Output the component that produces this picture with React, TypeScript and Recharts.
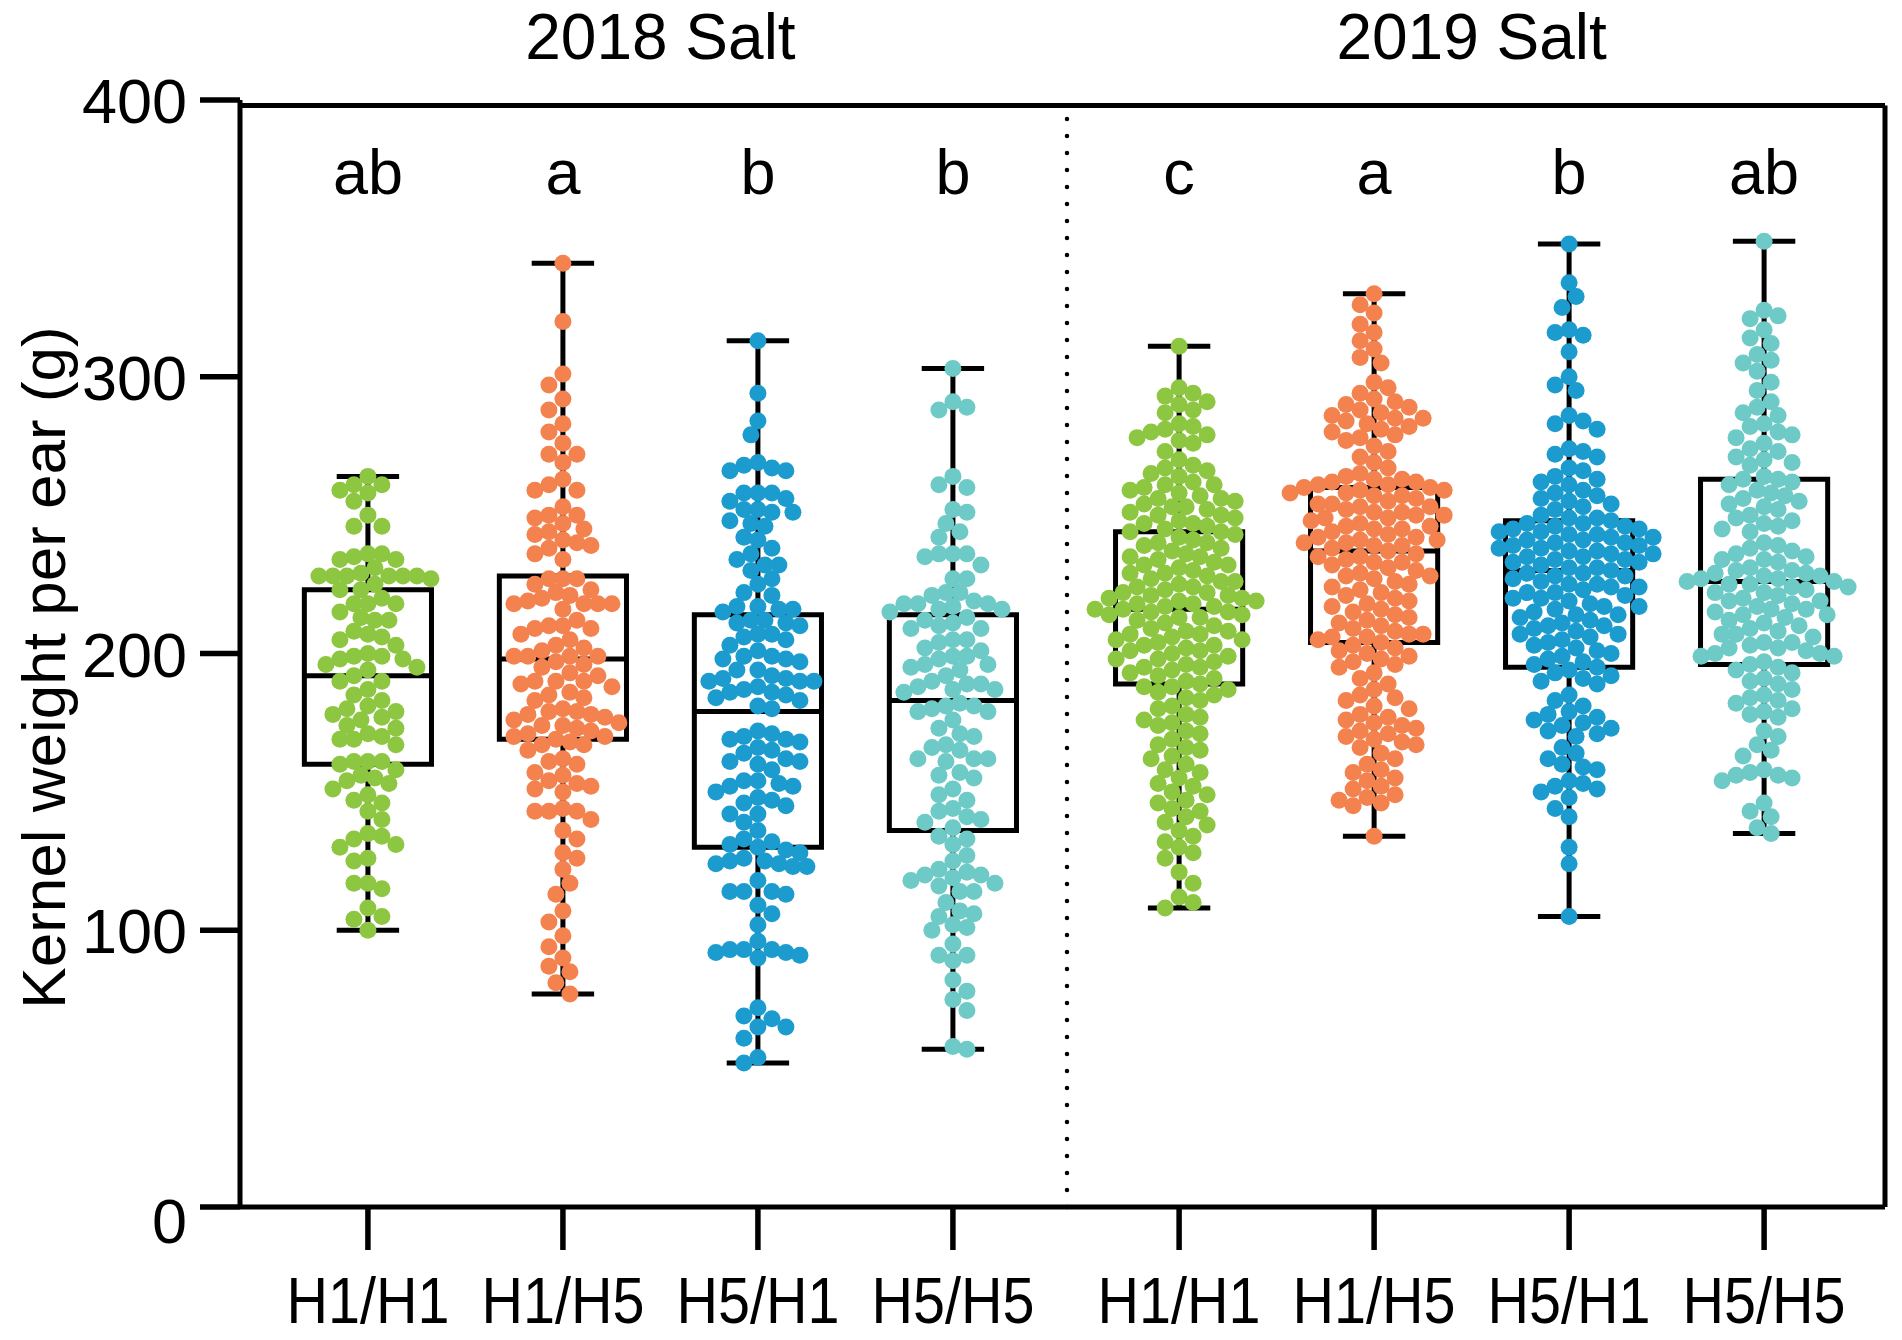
import React from 'react';
import { ComposedChart, XAxis, YAxis, Scatter, ReferenceLine, ReferenceArea } from 'recharts';

// ---------------- data ----------------
const categories = ['H1/H1', 'H1/H5', 'H5/H1', 'H5/H5', 'H1/H1', 'H1/H5', 'H5/H1', 'H5/H5'];
const groupTitles = ['2018 Salt', '2019 Salt'];
const letters = ['ab', 'a', 'b', 'b', 'c', 'a', 'b', 'ab'];
const yTicks = [0, 100, 200, 300, 400];
const yLabel = 'Kernel weight per ear (g)';

const mins = [100, 77, 52, 57, 108, 134, 105, 135];
const q1s = [160, 169, 130, 136, 189, 204, 195, 196];
const medians = [192, 198, 179, 183, 216, 237, 230, 226];
const q3s = [223, 228, 214, 214, 244, 260, 248, 263];
const maxs = [264, 341, 313, 303, 311, 330, 348, 349];

const g18 = [264, 261, 261, 258, 259, 255, 250, 246, 246, 235, 236, 236, 234, 234, 231, 228, 228, 227, 228, 228, 229, 228, 228, 225, 223, 223, 220, 218, 218, 218, 215, 213, 212, 212, 208, 207, 206, 205, 203, 200, 199, 199, 198, 198, 196, 195, 194, 192, 190, 190, 187, 185, 183, 181, 180, 179, 178, 177, 176, 174, 173, 171, 170, 169, 169, 167, 161, 161, 161, 160, 158, 156, 155, 154, 153, 151, 149, 147, 146, 143, 140, 135, 134, 133, 131, 130, 126, 125, 117, 117, 115, 108, 105, 104, 100];
const o18 = [341, 320, 301, 297, 292, 288, 283, 280, 276, 272, 272, 269, 263, 261, 259, 259, 253, 250, 250, 249, 247, 245, 244, 243, 241, 240, 239, 238, 236, 234, 227, 227, 227, 225, 223, 222, 221, 220, 219, 218, 218, 218, 218, 216, 212, 210, 210, 209, 209, 207, 205, 203, 202, 201, 199, 199, 199, 199, 197, 196, 195, 193, 192, 190, 190, 190, 189, 188, 186, 185, 184, 183, 180, 179, 179, 178, 178, 177, 176, 175, 174, 174, 173, 172, 171, 170, 170, 169, 168, 167, 167, 165, 162, 161, 160, 157, 156, 154, 153, 152, 151, 150, 144, 143, 143, 143, 140, 136, 133, 128, 126, 122, 117, 113, 107, 103, 98, 94, 90, 87, 85, 81, 77];
const b18 = [313, 294, 284, 279, 269, 268, 267, 266, 266, 258, 258, 258, 256, 255, 252, 252, 251, 251, 248, 247, 246, 242, 241, 238, 236, 234, 232, 232, 230, 227, 225, 222, 221, 217, 216, 215, 216, 217, 212, 212, 211, 211, 210, 207, 207, 206, 205, 203, 201, 199, 199, 198, 198, 197, 194, 194, 192, 191, 190, 190, 190, 191, 188, 187, 186, 186, 185, 184, 183, 181, 180, 172, 171, 170, 169, 169, 168, 166, 165, 164, 162, 161, 161, 160, 158, 154, 154, 153, 152, 152, 150, 148, 147, 146, 145, 142, 142, 139, 136, 133, 132, 131, 130, 129, 128, 126, 125, 125, 124, 124, 123, 123, 118, 114, 114, 114, 113, 109, 106, 102, 96, 93, 93, 93, 92, 92, 91, 90, 72, 69, 68, 65, 65, 61, 54, 52];
const c18 = [303, 291, 289, 288, 264, 260, 261, 251, 252, 247, 244, 242, 236, 236, 236, 235, 232, 227, 227, 222, 221, 222, 219, 218, 218, 218, 217, 216, 216, 215, 213, 212, 211, 210, 209, 209, 205, 205, 204, 202, 201, 199, 199, 198, 196, 196, 195, 194, 192, 190, 189, 189, 188, 187, 187, 186, 182, 181, 181, 180, 179, 179, 176, 173, 171, 170, 167, 166, 165, 162, 162, 162, 161, 157, 156, 155, 151, 149, 147, 144, 143, 141, 140, 139, 137, 134, 133, 131, 127, 125, 122, 121, 120, 120, 119, 118, 117, 116, 114, 114, 110, 107, 106, 105, 102, 101, 100, 95, 91, 91, 89, 82, 78, 75, 71, 58, 57];
const g19 = [311, 296, 294, 293, 291, 290, 288, 287, 283, 282, 281, 280, 279, 278, 277, 276, 273, 270, 268, 267, 266, 265, 264, 262, 261, 261, 260, 259, 258, 257, 256, 256, 255, 254, 253, 253, 252, 251, 250, 250, 249, 248, 247, 247, 246, 245, 244, 244, 243, 242, 241, 240, 240, 239, 238, 237, 236, 235, 235, 234, 233, 232, 232, 231, 230, 229, 229, 228, 227, 226, 226, 225, 224, 224, 223, 222, 222, 221, 221, 220, 220, 219, 219, 218, 218, 217, 217, 216, 216, 215, 215, 214, 214, 213, 213, 212, 211, 210, 209, 208, 208, 207, 207, 206, 205, 205, 204, 203, 203, 202, 201, 201, 200, 199, 198, 198, 197, 196, 195, 195, 194, 193, 192, 191, 190, 189, 188, 188, 187, 186, 185, 184, 183, 181, 180, 178, 177, 176, 175, 174, 172, 171, 169, 167, 166, 165, 163, 162, 160, 158, 157, 155, 153, 152, 150, 149, 147, 146, 144, 143, 141, 139, 138, 136, 134, 132, 130, 128, 126, 121, 117, 112, 110, 108];
const o19 = [330, 326, 323, 319, 316, 313, 310, 307, 305, 298, 296, 294, 292, 291, 290, 289, 288, 287, 286, 285, 285, 284, 283, 282, 281, 280, 279, 278, 277, 275, 273, 271, 269, 267, 265, 264, 263, 263, 262, 262, 261, 261, 260, 260, 259, 259, 258, 258, 257, 257, 256, 255, 254, 254, 253, 253, 252, 251, 251, 250, 250, 249, 249, 248, 247, 246, 246, 245, 245, 244, 243, 242, 242, 241, 241, 240, 240, 239, 239, 238, 237, 236, 235, 235, 234, 233, 233, 232, 231, 230, 229, 228, 228, 227, 226, 225, 224, 223, 222, 221, 220, 219, 218, 217, 216, 215, 214, 213, 212, 211, 210, 209, 208, 207, 207, 206, 206, 205, 204, 203, 202, 201, 200, 199, 198, 197, 196, 195, 193, 191, 189, 187, 185, 184, 183, 181, 180, 178, 177, 176, 175, 174, 173, 172, 171, 170, 169, 168, 167, 166, 164, 162, 160, 158, 157, 155, 154, 152, 151, 149, 148, 147, 146, 145, 134];
const b19 = [348, 334, 329, 325, 317, 316, 315, 309, 300, 297, 295, 286, 284, 283, 281, 274, 273, 272, 271, 267, 266, 264, 263, 262, 261, 259, 258, 257, 256, 255, 254, 253, 252, 250, 249, 249, 248, 247, 247, 246, 246, 245, 245, 244, 244, 243, 243, 242, 242, 241, 241, 240, 240, 239, 239, 238, 238, 237, 237, 236, 236, 235, 235, 234, 234, 233, 233, 232, 231, 231, 230, 229, 229, 228, 228, 227, 226, 225, 225, 224, 224, 223, 222, 222, 221, 220, 220, 219, 218, 217, 217, 216, 215, 214, 214, 213, 212, 211, 210, 210, 209, 208, 207, 207, 206, 205, 204, 203, 202, 201, 200, 199, 198, 197, 196, 195, 194, 193, 192, 191, 190, 189, 185, 183, 181, 179, 178, 177, 176, 175, 174, 173, 172, 171, 170, 166, 164, 162, 160, 159, 158, 154, 153, 152, 151, 150, 148, 144, 141, 130, 124, 105];
const c19 = [349, 324, 322, 321, 317, 314, 312, 308, 306, 305, 302, 298, 295, 291, 289, 287, 286, 283, 282, 280, 279, 278, 276, 274, 273, 271, 270, 269, 268, 264, 263, 263, 262, 261, 259, 258, 257, 256, 255, 254, 253, 252, 250, 249, 248, 247, 246, 245, 244, 240, 239, 238, 237, 236, 235, 234, 234, 233, 231, 230, 230, 229, 229, 228, 228, 227, 227, 226, 226, 225, 225, 224, 224, 223, 222, 222, 221, 220, 219, 219, 218, 217, 216, 216, 215, 214, 214, 213, 212, 211, 210, 209, 208, 207, 207, 206, 204, 204, 203, 202, 202, 201, 200, 200, 199, 199, 197, 196, 195, 194, 193, 191, 190, 189, 187, 185, 184, 183, 182, 180, 179, 178, 177, 172, 170, 167, 165, 163, 158, 157, 156, 156, 155, 154, 146, 143, 141, 137, 135];

const seriesValues = [g18, o18, b18, c18, g19, o19, b19, c19];

// ---------------- layout & style ----------------
const W = 1902;
const H = 1340;
const MARGIN = { top: 100, right: 17, bottom: 0, left: 0 };
const YAXIS_W = 240;
const XAXIS_H = 133;
const positions = [1, 2, 3, 4, 5.16, 6.16, 7.16, 8.16];
const X_DOMAIN: [number, number] = [0.344, 8.78];
const Y_DOMAIN: [number, number] = [0, 400];
const DIVIDER_X = 4.585;
const FRAME_TOP = 398;
const LETTER_Y = 366;
const BOX_HALF = 0.326;
const CAP_HALF = 0.16;
const DOT_R = 8.5;
const COLLIDE = 14;
const LW = 5;
const FONT = '"Liberation Sans", Arial, Helvetica, sans-serif';
const palette = ['#8DC641', '#F3824F', '#1C9BCF', '#6DCAC6'];
const colors = [0, 1, 2, 3, 0, 1, 2, 3].map((i) => palette[i]);

const plotW = W - MARGIN.left - MARGIN.right - YAXIS_W;
const plotH = H - MARGIN.top - MARGIN.bottom - XAXIS_H;
const pxPerX = plotW / (X_DOMAIN[1] - X_DOMAIN[0]);
const pxPerY = plotH / (Y_DOMAIN[1] - Y_DOMAIN[0]);

// beeswarm layout: horizontal offsets (in x-axis units) so that dots don't collide
function swarmOffsets(values: number[]): number[] {
  const order = values.map((_, i) => i).sort((a, b) => values[b] - values[a]);
  const placed: { x: number; y: number }[] = [];
  const out = new Array(values.length).fill(0);
  const step = COLLIDE / 2;
  order.forEach((i, n) => {
    const y = values[i] * pxPerY;
    const near = placed.filter((p) => Math.abs(p.y - y) < COLLIDE);
    let chosen = 0;
    for (let k = 0; k < 80; k++) {
      const mag = Math.ceil(k / 2) * step;
      const sign = (k % 2 === 1) === (n % 2 === 0) ? 1 : -1;
      const xo = k === 0 ? 0 : sign * mag;
      if (near.every((p) => (p.x - xo) ** 2 + (p.y - y) ** 2 >= COLLIDE * COLLIDE - 0.01)) {
        chosen = xo;
        break;
      }
    }
    placed.push({ x: chosen, y });
    out[i] = chosen / pxPerX;
  });
  return out;
}

const dotSeries = seriesValues.map((vals, g) => {
  const offs = swarmOffsets(vals);
  return vals.map((v, i) => ({ x: positions[g] + offs[i], y: v }));
});

const letterData = positions.map((p, i) => ({ x: p, y: LETTER_Y, label: letters[i] }));
const titleSpans = groupTitles.map((t, gi) => {
  const ps = positions.slice(gi * 4, gi * 4 + 4);
  return { x1: ps[0], x2: ps[3], label: t };
});

const XTick = (props: any) => {
  const { x, y, payload } = props;
  const idx = positions.findIndex((p) => Math.abs(p - payload.value) < 1e-6);
  if (idx < 0) return null;
  return (
    <text x={x} y={y + 73} textAnchor="middle" fontSize={64} fontFamily={FONT} fill="#000"
      textLength={163} lengthAdjust="spacingAndGlyphs">
      {categories[idx]}
    </text>
  );
};

const YTick = (props: any) => {
  const { x, y, payload } = props;
  return (
    <text x={x} y={y + (payload.value === 0 ? 36 : 23)} textAnchor="end" fontSize={63} fontFamily={FONT} fill="#000">
      {payload.value}
    </text>
  );
};

const YTitle = (props: any) => {
  const vb = props.viewBox || { x: 0, y: MARGIN.top, width: YAXIS_W, height: plotH };
  const cx = vb.x + 65;
  const cy = vb.y + vb.height / 2 + 14;
  return (
    <text x={cx} y={cy} transform={`rotate(-90, ${cx}, ${cy})`} textAnchor="middle" fontSize={62}
      fontFamily={FONT} fill="#000">
      {yLabel}
    </text>
  );
};

const GroupTitle = (props: any) => {
  const vb = props.viewBox || { x: 0, y: 0, width: 0, height: 0 };
  return (
    <text x={vb.x + vb.width / 2} y={vb.y - 41} textAnchor="middle" fontSize={64} fontFamily={FONT} fill="#000">
      {props.text}
    </text>
  );
};

const Dot = (color: string) => (props: any) => (
  <circle cx={props.cx} cy={props.cy} r={DOT_R} fill={color} />
);

const LetterShape = (props: any) => (
  <text x={props.cx} y={props.cy} textAnchor="middle" fontSize={63} fontFamily={FONT} fill="#000">
    {props.payload.label}
  </text>
);

export default function App() {
  const k = { stroke: '#000', strokeWidth: LW };
  return (
    <div style={{ position: 'absolute', left: 0, top: 0, width: W, height: H, background: '#fff' }}>
      <ComposedChart width={W} height={H} margin={MARGIN}>
        <XAxis type="number" dataKey="x" domain={X_DOMAIN} allowDataOverflow ticks={positions} interval={0}
          tickSize={43} tickMargin={0} height={XAXIS_H} axisLine={{ stroke: '#000', strokeWidth: LW }}
          tickLine={{ stroke: '#000', strokeWidth: 5.5 }} tick={<XTick />} />
        <YAxis type="number" dataKey="y" domain={Y_DOMAIN} allowDataOverflow ticks={yTicks} interval={0}
          tickSize={40} tickMargin={13} width={YAXIS_W} axisLine={{ stroke: '#000', strokeWidth: LW }}
          tickLine={{ stroke: '#000', strokeWidth: 5.5 }} tick={<YTick />} label={<YTitle />} />

        <ReferenceLine y={FRAME_TOP} stroke="#000" strokeWidth={LW} ifOverflow="visible" />
        <ReferenceLine segment={[{ x: X_DOMAIN[1], y: 0 }, { x: X_DOMAIN[1], y: FRAME_TOP }]} stroke="#000"
          strokeWidth={LW} ifOverflow="visible" />
        <ReferenceLine segment={[{ x: DIVIDER_X, y: 0 }, { x: DIVIDER_X, y: FRAME_TOP }]} stroke="#000"
          strokeWidth={4.5} strokeDasharray="0 17" strokeLinecap="round" ifOverflow="visible" />
        {titleSpans.map((t, i) => (
          <ReferenceLine key={`title${i}`} segment={[{ x: t.x1, y: Y_DOMAIN[1] }, { x: t.x2, y: Y_DOMAIN[1] }]}
            stroke="none" strokeWidth={0} ifOverflow="visible" label={<GroupTitle text={t.label} />} />
        ))}

        {positions.map((p, i) => (
          <ReferenceArea key={`box${i}`} x1={p - BOX_HALF} x2={p + BOX_HALF} y1={q1s[i]} y2={q3s[i]}
            fill="none" fillOpacity={0} stroke="#000" strokeWidth={LW} ifOverflow="visible" />
        ))}
        {positions.map((p, i) => (
          <ReferenceLine key={`med${i}`} segment={[{ x: p - BOX_HALF, y: medians[i] }, { x: p + BOX_HALF, y: medians[i] }]} {...k} ifOverflow="visible" />
        ))}
        {positions.map((p, i) => (
          <ReferenceLine key={`wu${i}`} segment={[{ x: p, y: q3s[i] }, { x: p, y: maxs[i] }]} {...k} ifOverflow="visible" />
        ))}
        {positions.map((p, i) => (
          <ReferenceLine key={`wl${i}`} segment={[{ x: p, y: mins[i] }, { x: p, y: q1s[i] }]} {...k} ifOverflow="visible" />
        ))}
        {positions.map((p, i) => (
          <ReferenceLine key={`cu${i}`} segment={[{ x: p - CAP_HALF, y: maxs[i] }, { x: p + CAP_HALF, y: maxs[i] }]} {...k} ifOverflow="visible" />
        ))}
        {positions.map((p, i) => (
          <ReferenceLine key={`cl${i}`} segment={[{ x: p - CAP_HALF, y: mins[i] }, { x: p + CAP_HALF, y: mins[i] }]} {...k} ifOverflow="visible" />
        ))}

        {dotSeries.map((d, i) => (
          <Scatter key={`s${i}`} data={d} dataKey="y" fill={colors[i]} shape={Dot(colors[i])} isAnimationActive={false} />
        ))}
        <Scatter data={letterData} dataKey="y" shape={LetterShape} isAnimationActive={false} />
      </ComposedChart>
    </div>
  );
}
